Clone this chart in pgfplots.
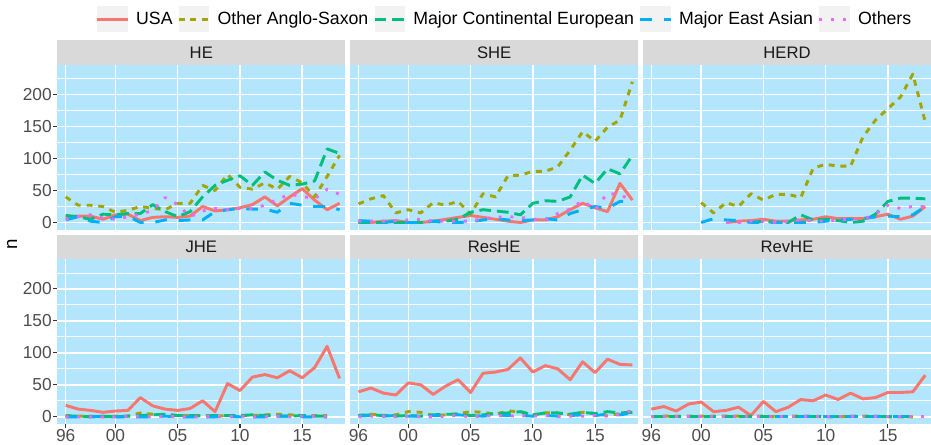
\documentclass[border=0pt]{standalone}
\usepackage{pgfplots}
\pgfplotsset{compat=1.18}
\usepackage{pgfplotstable}
\usepackage{fontspec}
\setmainfont{Liberation Sans}

\definecolor{cusa}{HTML}{F8766D}
\definecolor{coas}{HTML}{A3A500}
\definecolor{cmce}{HTML}{00BF7D}
\definecolor{cmea}{HTML}{00B0F6}
\definecolor{coth}{HTML}{E76BF3}
\definecolor{cpanel}{HTML}{B3E5FC}
\definecolor{cstrip}{HTML}{D9D9D9}
\definecolor{ckey}{HTML}{F2F2F2}
\definecolor{ctick}{HTML}{4D4D4D}
\definecolor{ctickmark}{HTML}{333333}
\definecolor{cstriptext}{HTML}{1A1A1A}

% one table per panel: year, USA, Other Anglo-Saxon, Major Continental European, Major East Asian, Others
\pgfplotstableread{
year usa oas mce mea oth
1996 9 40 11 4 5
1997 10 27 9 9 9
1998 10 27 5 2 12
1999 5 25 13 0 7
2000 12 16 12 9 5
2001 13 19 14 10 9
2002 3 25 14 0 13
2003 8 22 28 0 19
2004 9 20 17 4 39
2005 8 30 9 3 28
2006 10 30 17 4 9
2007 25 58 40 4 18
2008 18 50 58 17 22
2009 20 75 66 20 20
2010 23 55 73 22 22
2011 28 52 58 21 22
2012 40 62 79 21 27
2013 26 52 66 16 36
2014 40 72 58 30 44
2015 53 62 60 27 41
2016 35 40 65 25 37
2017 20 72 115 25 52
2018 30 105 108 20 44
}\tblHE

\pgfplotstableread{
year usa oas mce mea oth
1996 0 29 0 3 2
1997 0 37 0 2 2
1998 2 42 0 0 2
1999 3 15 0 2 3
2000 0 20 0 0 4
2001 0 15 0 0 5
2002 2 31 2 2 2
2003 5 27 2 0 2
2004 8 33 5 0 2
2005 11 13 16 1 2
2006 8 45 20 4 6
2007 5 40 18 6 8
2008 2 73 16 4 9
2009 0 74 12 3 8
2010 4 80 30 4 5
2011 4 80 34 6 4
2012 9 87 33 4 14
2013 20 113 40 14 21
2014 30 142 74 20 34
2015 23 127 61 25 20
2016 17 149 84 22 46
2017 61 160 76 33 43
2018 35 220 105 33 35
}\tblSHE

\pgfplotstableread{
year usa oas mce mea oth
2000 nan 31 nan 0 nan
2001 nan 15 nan 6 nan
2002 0 31 nan 4 0
2003 2 25 nan 3 0
2004 3 45 0 0 2
2005 5 35 2 0 2
2006 2 44 0 0 0
2007 2 44 0 0 2
2008 4 39 12 0 4
2009 5 85 4 0 3
2010 9 91 5 2 2
2011 6 88 3 4 4
2012 6 88 0 5 5
2013 6 134 2 6 5
2014 9 160 13 9 13
2015 13 178 33 10 27
2016 5 196 38 9 22
2017 10 232 38 12 25
2018 25 157 37 25 25
}\tblHERD

\pgfplotstableread{
year usa oas mce mea oth
1996 18 2 1 0 0
1997 12 1 1 0 0
1998 10 1 0 0 0
1999 7 0 1 1 0
2000 9 1 0 0 0
2001 10 1 1 0 1
2002 30 6 2 0 1
2003 17 4 3 0 0
2004 12 3 4 1 1
2005 10 2 2 0 0
2006 13 2 2 0 0
2007 25 2 1 0 0
2008 8 1 2 0 1
2009 52 2 2 1 0
2010 41 2 2 0 1
2011 62 2 3 0 0
2012 66 3 2 0 0
2013 61 4 1 1 1
2014 72 3 1 1 0
2015 61 2 2 0 1
2016 77 2 1 0 1
2017 110 2 1 0 0
2018 60 nan nan nan nan
}\tblJHE

\pgfplotstableread{
year usa oas mce mea oth
1996 39 2 2 1 0
1997 45 4 3 2 1
1998 37 2 2 1 1
1999 34 3 1 2 0
2000 53 8 2 1 1
2001 50 7 1 1 0
2002 35 2 3 2 0
2003 48 3 4 2 1
2004 58 5 4 3 2
2005 38 8 2 2 0
2006 68 7 3 1 1
2007 70 4 5 2 2
2008 74 9 6 2 1
2009 92 8 8 2 2
2010 70 3 3 1 1
2011 80 6 6 2 2
2012 75 6 6 1 0
2013 58 3 4 2 1
2014 86 7 7 3 1
2015 69 5 5 2 2
2016 90 2 8 4 1
2017 82 5 6 3 4
2018 81 8 7 6 10
}\tblResHE

\pgfplotstableread{
year usa oas mce mea oth
1996 12 0 0 nan 0
1997 16 1 0 nan 0
1998 9 1 0 nan 0
1999 20 1 0 nan 0
2000 23 1 0 nan 0
2001 8 1 0 nan 0
2002 10 1 0 nan 0
2003 15 1 0 nan 0
2004 2 1 0 nan 0
2005 24 1 0 nan 0
2006 8 0 0 1 0
2007 15 1 0 1 0
2008 27 1 0 1 0
2009 25 1 0 1 0
2010 34 0 0 1 0
2011 27 0 0 1 0
2012 37 1 0 1 0
2013 28 1 0 1 0
2014 30 1 0 1 0
2015 38 0 0 1 0
2016 38 0 0 1 0
2017 39 0 0 1 0
2018 65 nan nan nan 0
}\tblRevHE

\pgfplotsset{
  panel/.style={
    scale only axis, width=216pt, height=124pt,
    xmin=1995.33, xmax=2018.46, ymin=-11.75, ymax=246.75,
    axis background/.style={fill=cpanel},
    axis line style={draw=none},
    xtick={1996,2000,2005,2010,2015},
    ytick={0,50,100,150,200},
    minor ytick={25,75,125,175,225},
    xmajorgrids, ymajorgrids, yminorgrids,
    major grid style={white, line width=1.1pt},
    minor grid style={white, line width=0.55pt},
    tick align=outside, major tick length=3pt, minor tick length=0pt,
    xtick pos=bottom, ytick pos=left,
    xticklabels={}, yticklabels={},
    xtick style={draw=none}, ytick style={draw=none},
    tick label style={font=\fontsize{13}{13}\selectfont, text=ctick},
    unbounded coords=jump,
    anchor=south west,
  },
  leftcol/.style={yticklabels={0,50,100,150,200},
    ytick style={draw=ctickmark, line width=0.8pt},
    yticklabel style={inner sep=1pt}},
  bottomrow/.style={xticklabels={96,00,05,10,15},
    xtick style={draw=ctickmark, line width=0.8pt},
    xticklabel style={inner sep=0.6pt}},
  susa/.style={cusa, line width=2.2pt, line join=round},
  soas/.style={coas, line width=2.2pt, line join=round, dash pattern=on 4.4pt off 4.4pt},
  smce/.style={cmce, line width=2.2pt, line join=round, dash pattern=on 8.8pt off 4.4pt},
  smea/.style={cmea, line width=2.2pt, line join=round, dash pattern=on 8.8pt off 8.8pt},
  soth/.style={coth, line width=2.2pt, line join=round, dash pattern=on 2.2pt off 6.6pt},
}

\tikzset{striplabel/.style={font=\fontsize{12.5}{14}\selectfont, text=cstriptext}}

\begin{document}
\begin{tikzpicture}
\useasboundingbox (0pt,0pt) rectangle (698.25pt,333pt);

% ---- top row
\begin{axis}[panel, leftcol, name=he, at={(42.98pt,160.5pt)},
    legend columns=5, legend cell align=left,
    legend style={at={(2.966,1.276)}, anchor=east, draw=none, fill=none,
      inner sep=0pt, font=\fontsize{13.3}{15}\selectfont,
      nodes={inner sep=0pt},
      /tikz/every odd column/.append style={column sep=5pt},
      /tikz/every even column/.append style={column sep=3.5pt}},
    legend image code/.code={
      \path[fill=ckey, draw=none, solid] (0pt,-10pt) rectangle (23pt,10pt);
      \draw[#1] (0pt,0pt) -- (23pt,0pt);
    }]
  \addplot[susa] table[x=year,y=usa]{\tblHE}; \addlegendentry{USA}
  \addplot[soas] table[x=year,y=oas]{\tblHE}; \addlegendentry{Other Anglo-Saxon}
  \addplot[smce] table[x=year,y=mce]{\tblHE}; \addlegendentry{Major Continental European}
  \addplot[smea] table[x=year,y=mea]{\tblHE}; \addlegendentry{Major East Asian}
  \addplot[soth] table[x=year,y=oth]{\tblHE}; \addlegendentry{Others}
\end{axis}

\begin{axis}[panel, name=she, at={(262.61pt,160.5pt)}]
  \addplot[susa] table[x=year,y=usa]{\tblSHE};
  \addplot[soas] table[x=year,y=oas]{\tblSHE};
  \addplot[smce] table[x=year,y=mce]{\tblSHE};
  \addplot[smea] table[x=year,y=mea]{\tblSHE};
  \addplot[soth] table[x=year,y=oth]{\tblSHE};
\end{axis}

\begin{axis}[panel, name=herd, at={(482.25pt,160.5pt)}]
  \addplot[susa] table[x=year,y=usa]{\tblHERD};
  \addplot[soas] table[x=year,y=oas]{\tblHERD};
  \addplot[smce] table[x=year,y=mce]{\tblHERD};
  \addplot[smea] table[x=year,y=mea]{\tblHERD};
  \addplot[soth] table[x=year,y=oth]{\tblHERD};
\end{axis}

% ---- bottom row
\begin{axis}[panel, leftcol, bottomrow, name=jhe, at={(42.98pt,14.78pt)}]
  \addplot[susa] table[x=year,y=usa]{\tblJHE};
  \addplot[soas] table[x=year,y=oas]{\tblJHE};
  \addplot[smce] table[x=year,y=mce]{\tblJHE};
  \addplot[smea] table[x=year,y=mea]{\tblJHE};
  \addplot[soth] table[x=year,y=oth]{\tblJHE};
\end{axis}

\begin{axis}[panel, bottomrow, name=reshe, at={(262.61pt,14.78pt)}]
  \addplot[susa] table[x=year,y=usa]{\tblResHE};
  \addplot[soas] table[x=year,y=oas]{\tblResHE};
  \addplot[smce] table[x=year,y=mce]{\tblResHE};
  \addplot[smea] table[x=year,y=mea]{\tblResHE};
  \addplot[soth] table[x=year,y=oth]{\tblResHE};
\end{axis}

\begin{axis}[panel, bottomrow, name=revhe, at={(482.25pt,14.78pt)}]
  \addplot[susa] table[x=year,y=usa]{\tblRevHE};
  \addplot[soas] table[x=year,y=oas]{\tblRevHE};
  \addplot[smce] table[x=year,y=mce]{\tblRevHE};
  \addplot[smea] table[x=year,y=mea]{\tblRevHE};
  \addplot[soth] table[x=year,y=oth]{\tblRevHE};
\end{axis}

% facet strips
\foreach \nm/\lab in {he/HE, she/SHE, herd/HERD, jhe/JHE, reshe/ResHE, revhe/RevHE}{
  \fill[cstrip] (\nm.north west) rectangle ([yshift=18.2pt]\nm.north east);
  \node[striplabel] at ([yshift=9.1pt]\nm.north) {\lab};
}

% shared y label
\node[rotate=90, font=\fontsize{14}{14}\selectfont] at (9pt,150pt) {n};
\end{tikzpicture}
\end{document}
